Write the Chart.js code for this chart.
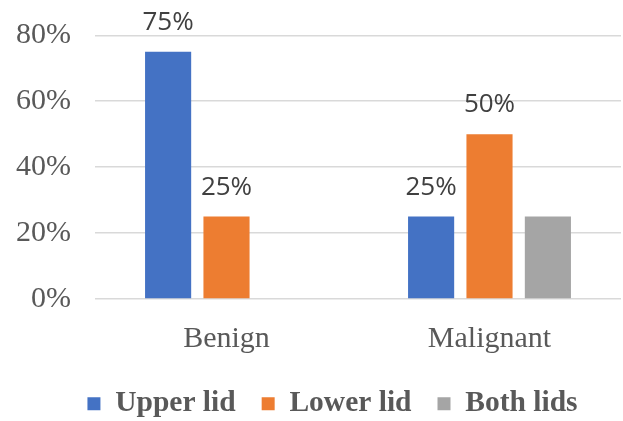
<!DOCTYPE html>
<html>
<head>
<meta charset="utf-8">
<script src="https://cdn.jsdelivr.net/npm/chart.js@4"></script>
<style>
  html, body { margin: 0; padding: 0; background: #fff; }
  #wrap { width: 623px; height: 421px; position: relative; }
</style>
</head>
<body>
<div id="wrap"><canvas id="chartCanvas"></canvas></div>
<script>
const categories = ["Benign", "Malignant"];
const upperLid = [75, 25];
const lowerLid = [25, 50];
const bothLids = [null, 25];
const yTicks = [0, 20, 40, 60, 80];
const serif = "'Liberation Serif', 'Times New Roman', serif";

// draws "NN%" above the upper/lower lid bars (the grey bar has none in the original)
const barLabels = {
    id: "barLabels",
    afterDatasetsDraw(chart) {
        const ctx = chart.ctx;
        ctx.save();
        ctx.font = "26px 'Open Sans', sans-serif";
        ctx.fillStyle = "#404040";
        ctx.textAlign = "center";
        ctx.textBaseline = "alphabetic";
        chart.data.datasets.forEach((ds, i) => {
            if (i === 2) return;
            chart.getDatasetMeta(i).data.forEach((bar, j) => {
                if (ds.data[j] == null) return;
                ctx.fillText(ds.data[j] + "%", bar.x, bar.y - 22);
            });
        });
        ctx.restore();
    }
};

// nudge the legend to the right, like the original
const legendShift = {
    id: "legendShift",
    afterLayout(chart) {
        chart.legend.left += 22;
        chart.legend.right += 22;
    }
};

const barOpts = { categoryPercentage: 0.666, barPercentage: 0.79 };

new Chart(document.getElementById("chartCanvas"), {
    type: "bar",
    data: {
        labels: categories,
        datasets: [
            { label: "Upper lid", data: upperLid, backgroundColor: "#4472C4", ...barOpts },
            { label: "Lower lid", data: lowerLid, backgroundColor: "#ED7D31", ...barOpts },
            { label: "Both lids", data: bothLids, backgroundColor: "#A5A5A5", ...barOpts }
        ]
    },
    options: {
        responsive: true,
        maintainAspectRatio: false,
        animation: false,
        layout: { padding: { top: 0, right: 2, bottom: 0, left: 0 } },
        plugins: {
            tooltip: { enabled: false },
            legend: {
                position: "bottom",
                maxHeight: 58,
                labels: {
                    boxWidth: 13,
                    boxHeight: 13,
                    padding: 26,
                    color: "#595959",
                    font: { family: serif, size: 29.5, weight: "bold" }
                }
            }
        },
        scales: {
            x: {
                grid: { display: false },
                border: { display: false },
                ticks: {
                    color: "#595959",
                    padding: 14,
                    font: { family: serif, size: 30 }
                },
                afterFit(scale) { scale.height = 64; }
            },
            y: {
                min: 0,
                max: 80,
                afterBuildTicks(scale) { scale.ticks = yTicks.map(v => ({ value: v })); },
                grid: { color: "#D9D9D9", lineWidth: 1.5, drawTicks: false },
                border: { display: false },
                ticks: {
                    color: "#595959",
                    padding: 24,
                    font: { family: serif, size: 30, lineHeight: 0.75 },
                    callback: v => v + "%"
                },
                afterFit(scale) { scale.width = 95; }
            }
        }
    },
    plugins: [barLabels, legendShift]
});
</script>
</body>
</html>
